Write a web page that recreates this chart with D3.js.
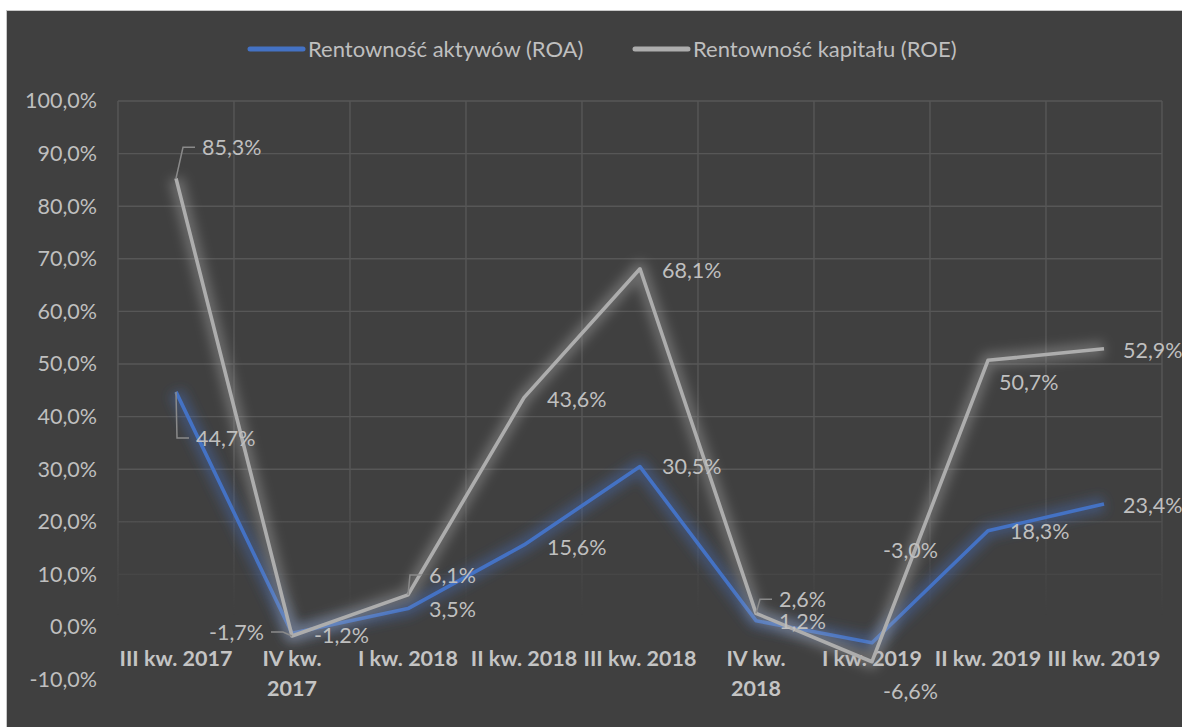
<!DOCTYPE html>
<html>
<head>
<meta charset="utf-8">
<script src="https://d3js.org/d3.v7.min.js"></script>
<style>
  body { margin: 0; background: #ffffff; }
  svg { display: block; }
</style>
</head>
<body>
<script type="text/javascript">
	"use strict";

	// quarters on the x axis (lines of each tick label)
	var quarters = ["III kw. 2017", "IV kw. 2017", "I kw. 2018", "II kw. 2018", "III kw. 2018",
	                "IV kw. 2018", "I kw. 2019", "II kw. 2019", "III kw. 2019"];
	var tickLines = [["III kw. 2017"], ["IV kw.", "2017"], ["I kw. 2018"], ["II kw. 2018"], ["III kw. 2018"],
	                 ["IV kw.", "2018"], ["I kw. 2019"], ["II kw. 2019"], ["III kw. 2019"]];

	// series values, in %
	var roa = [44.7, -1.2, 3.5, 15.6, 30.5, 1.2, -3.0, 18.3, 23.4];
	var roe = [85.3, -1.7, 6.1, 43.6, 68.1, 2.6, -6.6, 50.7, 52.9];
	var seriesNames = ["Rentowność aktywów (ROA)", "Rentowność kapitału (ROE)"];

	// y axis ticks
	var yTicks = [-10, 0, 10, 20, 30, 40, 50, 60, 70, 80, 90, 100];

	// where excel put each data label, relative to its point: [dx, dy, anchor, leader]
	var roaLabelPos = [[20, 46, "start", 1], [22, 2, "start", 0], [21, 1, "start", 0], [23, 2, "start", 0],
	                   [22, 0, "start", 0], [23, 1, "start", 0], [11, -93, "start", 0], [22, 1, "start", 0],
	                   [19, 1, "start", 0]];
	var roeLabelPos = [[26, -31, "start", 1], [-28, -4, "end", 1], [21, -20, "start", 1], [23, 2, "start", 0],
	                   [22, 1, "start", 0], [23, -14, "start", 1], [11, 30, "start", 0], [11, 22, "start", 0],
	                   [19, 2, "start", 0]];

	var W = 1182, H = 727;
	var FONT = "Lato, 'Open Sans', sans-serif";
	var blue = "#4472c4", grey = "#adadad", txt = "#bfbfbf", grid = "#575757";

	var pl = d3.formatLocale({decimal: ",", thousands: " ", grouping: [3], currency: ["", " zł"], minus: "-"});
	var fmt = function (v) { return pl.format(".1f")(v) + "%"; };

	var svg = d3.select("body").append("svg")
		.attr("width", W)
		.attr("height", H);

	var defs = svg.append("defs");
	defs.append("filter").attr("id", "glow")
		.attr("x", "-20%").attr("y", "-20%").attr("width", "140%").attr("height", "140%")
		.append("feGaussianBlur").attr("stdDeviation", 5.5);

	// gridlines fade out toward the bottom of the plot
	var fade = defs.append("linearGradient").attr("id", "fade")
		.attr("gradientUnits", "userSpaceOnUse")
		.attr("x1", 0).attr("x2", 0).attr("y1", 480).attr("y2", 615);
	fade.append("stop").attr("offset", 0).attr("stop-color", "#fff");
	fade.append("stop").attr("offset", 1).attr("stop-color", "#000");
	defs.append("mask").attr("id", "gridMask")
		.append("rect").attr("x", 0).attr("y", 0).attr("width", W).attr("height", H)
		.attr("fill", "url(#fade)");

	// chart area
	svg.append("rect")
		.attr("x", 6.5).attr("y", 10.5)
		.attr("width", W).attr("height", H)
		.attr("fill", "#404040")
		.attr("stroke", "#c8c8c8")
		.attr("stroke-width", 1);

	var x = d3.scaleBand().domain(quarters).range([118, 1162]).padding(0);
	var y = d3.scaleLinear().domain([-10, 100]).range([679.6, 101]);
	var cx = function (i) { return x(quarters[i]) + x.bandwidth() / 2; };

	// gridlines
	var g = svg.append("g").attr("mask", "url(#gridMask)")
		.attr("stroke", grid).attr("stroke-width", 1.4);
	g.selectAll("line.h").data(yTicks.filter(function (t) { return t >= 0; }))
		.enter().append("line")
		.attr("class", "h")
		.attr("x1", x.range()[0]).attr("x2", x.range()[1])
		.attr("y1", function (d) { return y(d); })
		.attr("y2", function (d) { return y(d); });
	g.selectAll("line.v").data(quarters.concat(["end"]))
		.enter().append("line")
		.attr("class", "v")
		.attr("x1", function (d, i) { return x.range()[0] + i * x.bandwidth(); })
		.attr("x2", function (d, i) { return x.range()[0] + i * x.bandwidth(); })
		.attr("y1", y(100)).attr("y2", y(-10));

	// y axis labels
	var yAxis = svg.append("g")
		.attr("transform", "translate(97,0)")
		.call(d3.axisLeft(y).tickValues(yTicks).tickFormat(fmt).tickSize(0).tickPadding(0));
	yAxis.select(".domain").remove();
	yAxis.selectAll("text")
		.attr("fill", txt)
		.attr("font-family", FONT)
		.attr("font-size", "21.5px");

	// x axis labels
	var xl = svg.append("g").selectAll("text").data(tickLines)
		.enter().append("text")
		.attr("text-anchor", "middle")
		.attr("font-family", FONT)
		.attr("font-size", "21.5px")
		.attr("font-weight", "bold")
		.attr("fill", "#c4c4c4");
	xl.each(function (lines, i) {
		var t = d3.select(this);
		lines.forEach(function (s, k) {
			t.append("tspan")
				.attr("x", cx(i))
				.attr("y", 666 + k * 30)
				.text(s);
		});
	});

	// lines, blue first, grey on top
	var line = d3.line()
		.x(function (d, i) { return cx(i); })
		.y(function (d) { return y(d); });

	[[roa, blue], [roe, grey]].forEach(function (s) {
		svg.append("path")
			.attr("d", line(s[0]))
			.attr("fill", "none")
			.attr("stroke", s[1])
			.attr("stroke-width", 15)
			.attr("stroke-opacity", 0.38)
			.attr("stroke-linejoin", "round")
			.attr("filter", "url(#glow)");
		svg.append("path")
			.attr("d", line(s[0]))
			.attr("fill", "none")
			.attr("stroke", s[1])
			.attr("stroke-width", 3.6)
			.attr("stroke-linejoin", "round");
	});

	// data labels with excel style leader lines
	function labels(vals, pos) {
		vals.forEach(function (v, i) {
			var px = cx(i), py = y(v);
			var p = pos[i];
			var tx = px + p[0], ty = py + p[1];
			if (p[3]) {
				var s = p[2] === "start" ? -1 : 1;
				svg.append("path")
					.attr("d", "M" + px + "," + py + "L" + (tx + s * 19) + "," + ty + "L" + (tx + s * 7) + "," + ty)
					.attr("fill", "none")
					.attr("stroke", "#8a8a8a")
					.attr("stroke-width", 1.5);
			}
			svg.append("text")
				.attr("x", tx)
				.attr("y", ty)
				.attr("dy", "0.36em")
				.attr("text-anchor", p[2])
				.attr("font-family", FONT)
				.attr("font-size", "21.5px")
				.attr("fill", txt)
				.text(fmt(v));
		});
	}
	labels(roa, roaLabelPos);
	labels(roe, roeLabelPos);

	// legend
	var legX = [250, 635];
	[blue, grey].forEach(function (c, i) {
		svg.append("line")
			.attr("x1", legX[i]).attr("x2", legX[i] + 53)
			.attr("y1", 49).attr("y2", 49)
			.attr("stroke", c)
			.attr("stroke-width", 5)
			.attr("stroke-linecap", "round");
		svg.append("text")
			.attr("x", legX[i] + 58)
			.attr("y", 49)
			.attr("dy", "0.36em")
			.attr("font-family", FONT)
			.attr("font-size", "22px")
			.attr("fill", txt)
			.text(seriesNames[i]);
	});
</script>
</body>
</html>
